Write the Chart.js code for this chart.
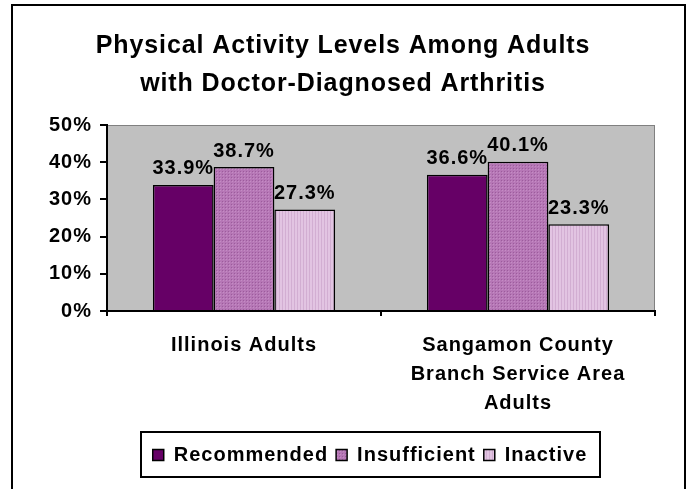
<!DOCTYPE html>
<html>
<head>
<meta charset="utf-8">
<script src="https://cdn.jsdelivr.net/npm/chart.js@4/dist/chart.umd.min.js"></script>
<style>
html,body{margin:0;padding:0;background:#fff;}
#wrap{width:687px;height:489px;}
</style>
</head>
<body>
<div id="wrap"><canvas id="c" width="687" height="489"></canvas></div>
<script>
const titleLines = ['Physical Activity Levels Among Adults', 'with Doctor-Diagnosed Arthritis'];
const categories = [['Illinois Adults'], ['Sangamon County', 'Branch Service Area', 'Adults']];
const seriesNames = ['Recommended', 'Insufficient', 'Inactive'];
const recommended = [33.9, 36.6];
const insufficient = [38.7, 40.1];
const inactive = [27.3, 23.3];
const yTickValues = [0, 10, 20, 30, 40, 50];

function makePattern(draw, w, h) {
  const c = document.createElement('canvas');
  c.width = w; c.height = h;
  const x = c.getContext('2d');
  draw(x);
  return document.getElementById('c').getContext('2d').createPattern(c, 'repeat');
}
const dotPattern = makePattern(x => {
  x.fillStyle = '#B677B6'; x.fillRect(0, 0, 3, 3);
  x.fillStyle = '#9C5C9C'; x.fillRect(0, 0, 1, 1);
  x.fillStyle = '#C48CC4'; x.fillRect(1, 1, 1, 1);
}, 3, 3);
const stripePattern = makePattern(x => {
  x.fillStyle = '#E2C4E2'; x.fillRect(0, 0, 3, 3);
  x.fillStyle = '#D2AED2'; x.fillRect(0, 0, 1, 3);
}, 3, 3);

const ctx = document.getElementById('c').getContext('2d');
const SPACING = '1px';
const FONT = "'Liberation Sans', Arial, sans-serif";
const FS = 20;

const framePlugin = {
  id: 'frame',
  beforeUpdate(chart) { chart.ctx.letterSpacing = SPACING; },
  beforeLayout(chart) { chart.ctx.letterSpacing = SPACING; },
  beforeDraw(chart) {
    const a = chart.chartArea, c = chart.ctx;
    c.letterSpacing = SPACING;
    c.save();
    c.fillStyle = '#C0C0C0';
    c.fillRect(a.left, a.top, a.right - a.left, a.bottom - a.top);
    c.strokeStyle = '#808080';
    c.lineWidth = 1;
    c.strokeRect(a.left + 0.5, a.top + 0.5, a.right - a.left - 1, a.bottom - a.top);
    c.restore();
  },
  afterLayout(chart) {
    const lg = chart.legend;
    if (lg) { lg.left -= 11; lg.right -= 11; }
  },
  afterDatasetsDraw(chart) {
    const c = chart.ctx;
    c.save();
    c.font = 'bold ' + FS + 'px ' + FONT;
    c.fillStyle = '#000';
    c.textAlign = 'center';
    c.textBaseline = 'bottom';
    chart.data.datasets.forEach((ds, i) => {
      chart.getDatasetMeta(i).data.forEach((bar, j) => {
        c.fillText(ds.data[j].toFixed(1) + '%', bar.x, bar.y - 6);
      });
    });
    c.restore();
  },
  afterDraw(chart) {
    const c = chart.ctx;
    c.save();
    c.strokeStyle = '#000';
    c.lineWidth = 2;
    c.strokeRect(12, 5, 673, 500);
    c.letterSpacing = '0.9px';
    c.font = 'bold 25px ' + FONT;
    c.fillStyle = '#000';
    c.textAlign = 'center';
    c.textBaseline = 'middle';
    c.fillText(titleLines[0], 343, 46);
    c.fillText(titleLines[1], 343, 84);
    c.lineWidth = 2;
    c.strokeRect(141, 432, 459, 45);
    c.restore();
  }
};

new Chart(ctx, {
  type: 'bar',
  data: {
    labels: categories,
    datasets: [
      { label: seriesNames[0], data: recommended, backgroundColor: '#660066', borderColor: '#000', borderWidth: 1.5 },
      { label: seriesNames[1], data: insufficient, backgroundColor: dotPattern, borderColor: '#000', borderWidth: 1.5 },
      { label: seriesNames[2], data: inactive, backgroundColor: stripePattern, borderColor: '#000', borderWidth: 1.5 }
    ]
  },
  options: {
    responsive: false,
    animation: false,
    devicePixelRatio: 1,
    layout: { padding: { top: 125, left: 0, right: 32, bottom: 14 } },
    datasets: { bar: { categoryPercentage: 0.665, barPercentage: 1 } },
    plugins: {
      title: { display: false },
      tooltip: { enabled: false },
      legend: {
        position: 'bottom',
        fullSize: false,
        labels: {
          font: { family: FONT, size: FS, weight: 'bold', lineHeight: 1.1 },
          color: '#000',
          boxWidth: 11,
          boxHeight: 11,
          padding: 8
        }
      }
    },
    scales: {
      y: {
        min: 0, max: 50,
        afterBuildTicks: s => { s.ticks = yTickValues.map(v => ({ value: v })); },
        afterFit: s => { s.width = 107; },
        ticks: {
          callback: v => v + '%',
          font: { family: FONT, size: FS, weight: 'bold' },
          color: '#000',
          padding: 8
        },
        grid: { drawOnChartArea: false, drawTicks: true, tickLength: 7, color: '#000', lineWidth: 2 },
        border: { color: '#000', width: 2 }
      },
      x: {
        afterFit: s => { s.height = 126; },
        ticks: {
          font: { family: FONT, size: FS, weight: 'bold', lineHeight: 1.45 },
          color: '#000',
          padding: 15,
          maxRotation: 0,
          autoSkip: false
        },
        grid: { drawOnChartArea: false, drawTicks: true, tickLength: 5, color: '#000', lineWidth: 2, offset: true },
        border: { color: '#000', width: 2 }
      }
    }
  },
  plugins: [framePlugin]
});
</script>
</body>
</html>
